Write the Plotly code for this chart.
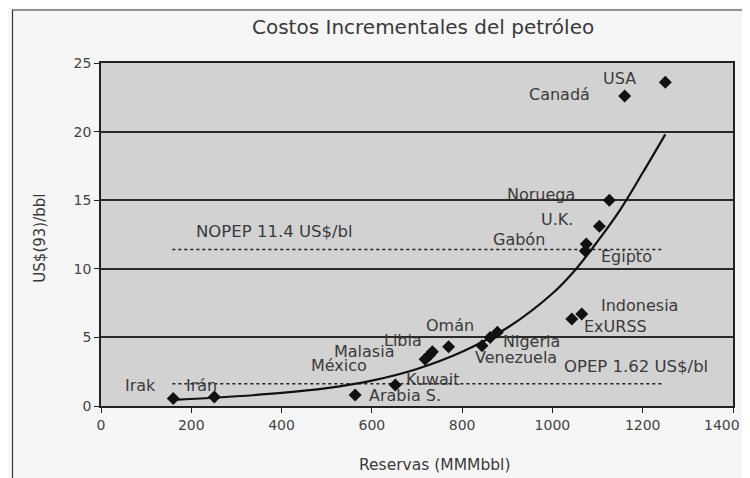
import plotly.graph_objects as go

# ---- data ----
paises = ["Irak", "Irán", "Arabia S.", "Kuwait", "México", "Malasia", "Libia", "Omán",
          "Venezuela", "Nigeria", "", "ExURSS", "Indonesia", "Egipto", "Gabón", "U.K.",
          "Noruega", "Canadá", "USA"]
reservas = [160, 251, 563, 652, 718, 728, 734, 770, 844, 862, 878, 1043, 1065, 1073, 1075,
            1104, 1126, 1160, 1250]
costos = [0.55, 0.65, 0.8, 1.53, 3.4, 3.72, 3.96, 4.32, 4.4, 5.0, 5.37, 6.35, 6.7, 11.3, 11.8,
          13.1, 15.0, 22.6, 23.6]

# fitted trend curve
curva_x = [160, 250, 400, 500, 600, 700, 800, 900, 1000, 1050, 1100, 1150, 1200, 1250]
curva_y = [0.45, 0.6, 0.95, 1.3, 1.85, 2.7, 3.95, 5.7, 8.2, 9.9, 12.0, 14.3, 17.0, 19.8]

# average-cost reference lines
nopep_x = [158, 1245]
nopep_y = [11.4, 11.4]
opep_x = [158, 1245]
opep_y = [1.62, 1.62]

x_ticks = [0, 200, 400, 600, 800, 1000, 1200, 1400]
y_ticks = [0, 5, 10, 15, 20, 25]

# label texts and anchor points (left edge, vertical centre), in data units
etiquetas = ["USA", "Canadá", "Noruega", "U.K.", "Gabón", "Egipto", "Indonesia", "ExURSS",
             "Omán", "Libia", "Malasia", "México", "Nigeria", "Venezuela", "Kuwait",
             "Arabia S.", "Irak", "Irán", "OPEP 1.62 US$/bl", "NOPEP 11.4 US$/bl"]
etiq_x = [1109, 946, 897, 973, 867, 1106, 1106, 1067, 718, 625, 514, 464, 888, 827, 674,
          592, 52, 187, 1024, 209]
etiq_y = [23.9, 22.67, 15.38, 13.56, 12.1, 10.88, 7.29, 5.76, 5.9, 4.81, 3.96, 2.94, 4.69,
          3.5, 1.9, 0.75, 1.53, 1.53, 2.86, 12.7]

FONT = "DejaVu Sans"
TXT = "#3a3a3a"

fig = go.Figure()
fig.add_trace(go.Scatter(x=nopep_x, y=nopep_y, mode="lines",
                         line=dict(color="#222", width=1.5, dash="dot"), hoverinfo="skip"))
fig.add_trace(go.Scatter(x=opep_x, y=opep_y, mode="lines",
                         line=dict(color="#222", width=1.5, dash="dot"), hoverinfo="skip"))
fig.add_trace(go.Scatter(x=curva_x, y=curva_y, mode="lines", line_shape="spline",
                         line=dict(color="#111", width=2.2), hoverinfo="skip"))
fig.add_trace(go.Scatter(x=reservas, y=costos, mode="markers", text=paises,
                         marker=dict(symbol="diamond", size=10, color="#111")))

for t, xx, yy in zip(etiquetas, etiq_x, etiq_y):
    fig.add_annotation(x=xx, y=yy, xref="x", yref="y", text=t, showarrow=False,
                       xanchor="left", yanchor="middle",
                       font=dict(family=FONT, size=16 if "US$" not in t else 16.5, color=TXT),
                       borderpad=0)

# title & axis titles
fig.add_annotation(x=0.51, y=1.105, xref="paper", yref="paper",
                   text="Costos Incrementales del petróleo", showarrow=False,
                   xanchor="center", yanchor="middle",
                   font=dict(family=FONT, size=20, color=TXT))
fig.add_annotation(x=0.527, y=-0.172, xref="paper", yref="paper",
                   text="Reservas (MMMbbl)", showarrow=False,
                   xanchor="center", yanchor="middle",
                   font=dict(family=FONT, size=15.5, color=TXT))
fig.add_annotation(x=-0.097, y=0.49, xref="paper", yref="paper",
                   text="US$(93)/bbl", showarrow=False, textangle=-90,
                   xanchor="center", yanchor="middle",
                   font=dict(family=FONT, size=15, color=TXT))

# last x tick label sits at the very edge of the picture: draw it right-aligned to the edge
x_last = x_ticks[-1]
fig.add_annotation(x=x_last, y=-0.056, xref="x", yref="paper", text=str(x_last),
                   showarrow=False, xanchor="right", yanchor="middle", xshift=9,
                   font=dict(family=FONT, size=14, color="#444"))
x_ticktext = [str(v) for v in x_ticks[:-1]] + [""]

# outer chart frame
fig.add_shape(type="rect", xref="paper", yref="paper", x0=-0.14, x1=1.06, y0=-0.3, y1=1.1545,
              line=dict(color="#333", width=1.2), fillcolor="rgba(0,0,0,0)", layer="below")

# the page body adds an 8px offset, so the figure is sized to fit the 750x478 window
fig.update_layout(
    width=742, height=470,
    margin=dict(l=92.5, r=17, t=55, b=72),
    paper_bgcolor="#f6f6f6",
    plot_bgcolor="#d2d2d2",
    showlegend=False,
    font=dict(family=FONT, color=TXT),
)
fig.update_xaxes(range=[0, 1400], tickvals=x_ticks, ticktext=x_ticktext,
                 showgrid=False, zeroline=False, showline=True, linecolor="#222", linewidth=1.5,
                 mirror=True, ticks="outside", ticklen=5, tickcolor="#222",
                 tickfont=dict(family=FONT, size=14, color="#444"))
fig.update_yaxes(range=[0, 25], tickvals=y_ticks, ticktext=[str(v) for v in y_ticks],
                 showgrid=True, gridcolor="#2a2a2a", gridwidth=1.5, zeroline=False,
                 showline=True, linecolor="#222", linewidth=1.5, mirror=True,
                 ticks="outside", ticklen=5, tickcolor="#222",
                 tickfont=dict(family=FONT, size=14, color="#444"))

fig.write_html("out.html")
